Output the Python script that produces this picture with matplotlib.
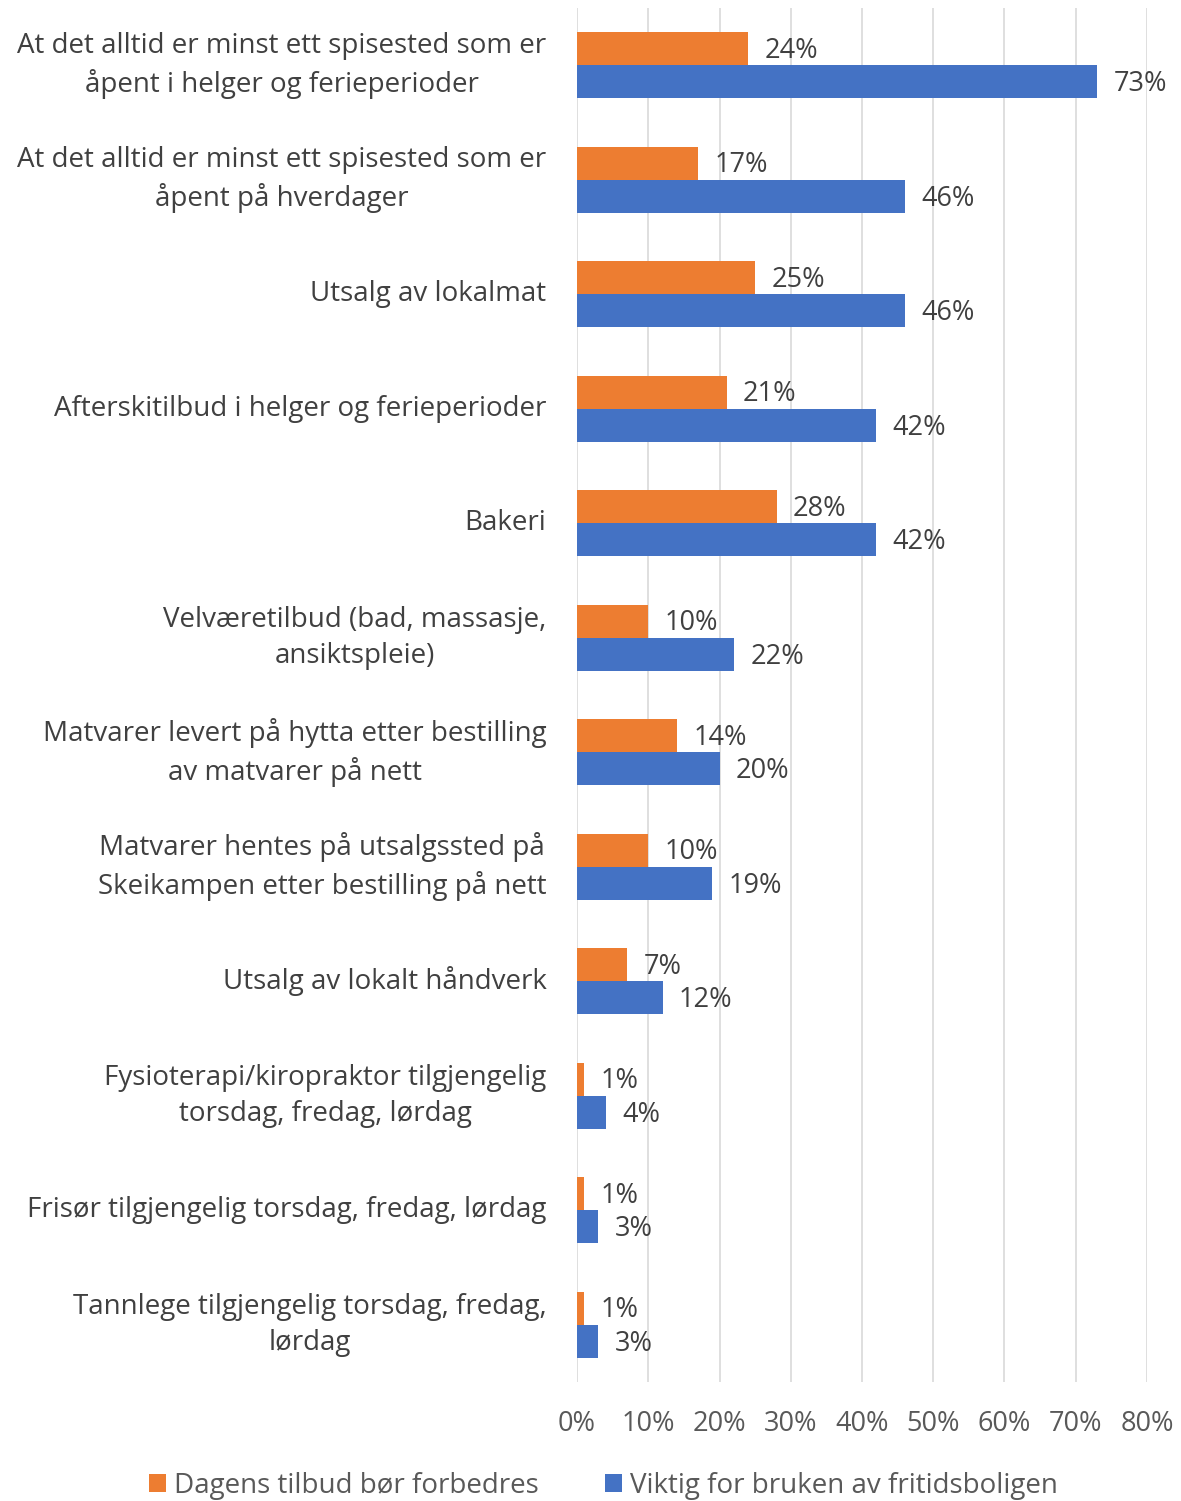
import numpy as np
import matplotlib.pyplot as plt

plt.rcParams['font.family'] = ['Open Sans', 'DejaVu Sans']

# datos
kategorier = [
    "At det alltid er minst ett spisested som er\nåpent i helger og ferieperioder",
    "At det alltid er minst ett spisested som er\nåpent på hverdager",
    "Utsalg av lokalmat",
    "Afterskitilbud i helger og ferieperioder",
    "Bakeri",
    "Velværetilbud (bad, massasje,\nansiktspleie)",
    "Matvarer levert på hytta etter bestilling\nav matvarer på nett",
    "Matvarer hentes på utsalgssted på\nSkeikampen etter bestilling på nett",
    "Utsalg av lokalt håndverk",
    "Fysioterapi/kiropraktor tilgjengelig\ntorsdag, fredag, lørdag",
    "Frisør tilgjengelig torsdag, fredag, lørdag",
    "Tannlege tilgjengelig torsdag, fredag,\nlørdag",
]
forbedres = [24, 17, 25, 21, 28, 10, 14, 10, 7, 1, 1, 1]
viktig = [73, 46, 46, 42, 42, 22, 20, 19, 12, 4, 3, 3]
serie_navn = ["Dagens tilbud bør forbedres", "Viktig for bruken av fritidsboligen"]

fig = plt.figure(figsize=(11.81, 15.01), dpi=100)
ax = fig.add_axes([0.4886, 0.0793, 0.4826, 0.9154])

y = np.arange(len(kategorier))
h = 0.29
b1 = ax.barh(y - h / 2, forbedres, height=h, color='#ED7D31', label=serie_navn[0], zorder=2)
b2 = ax.barh(y + h / 2, viktig, height=h, color='#4472C4', label=serie_navn[1], zorder=2)

for bars, vals in [(b1, forbedres), (b2, viktig)]:
    for bar, v in zip(bars, vals):
        ax.text(v + 2.3, bar.get_y() + bar.get_height() / 2 + 0.02, f"{v}%",
                va='center', ha='left', fontsize=19.5, color='#404040')

ax.set_xlim(0, 80)
ax.set_ylim(len(kategorier) - 0.5, -0.5)
ax.set_xticks(range(0, 81, 10))
ax.set_xticklabels([f"{t}%" for t in range(0, 81, 10)], fontsize=19.5, color='#595959')
ax.set_yticks(y)
ax.set_yticklabels(kategorier, fontsize=20, color='#404040')
for lbl in ax.get_yticklabels():
    lbl.set_multialignment('center')
    lbl.set_linespacing(1.4)
    lbl.set_verticalalignment('center')
ax.tick_params(axis='y', length=0, pad=22)
ax.tick_params(axis='x', length=0, pad=20)
ax.grid(axis='x', color='#D9D9D9', linewidth=1.2, zorder=0)
for s in ax.spines.values():
    s.set_visible(False)

fig.legend(loc='center', bbox_to_anchor=(0.511, 0.010), ncol=2, frameon=False,
           fontsize=20, handlelength=0.6, handleheight=0.6, handletextpad=0.3,
           columnspacing=2.4, labelcolor='#595959')

plt.savefig('out.png', dpi=100)
